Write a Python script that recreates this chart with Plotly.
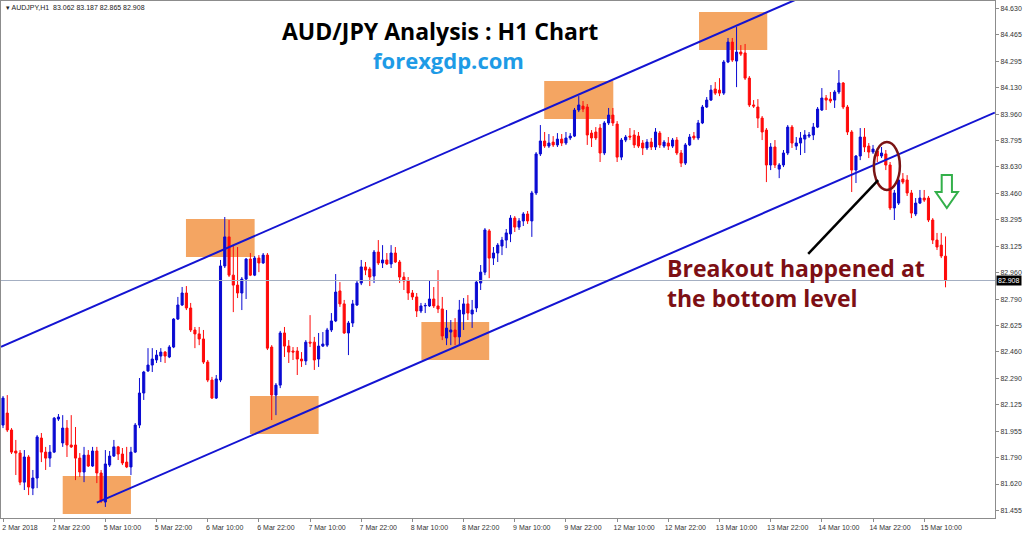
import plotly.graph_objects as go

# ---------------- data (AUD/JPY H1) ----------------
open_ = [81.993,82.069,81.962,81.829,81.816,81.632,81.791,81.594,81.658,81.911,
81.822,81.784,81.822,82.031,81.880,81.974,81.867,81.867,81.784,81.696,
81.803,81.734,81.829,81.690,81.506,81.740,81.797,81.855,81.810,81.759,
81.728,81.822,81.993,82.196,82.336,82.373,82.405,82.430,82.455,82.424,
82.487,82.664,82.753,82.829,82.734,82.595,82.570,82.538,82.392,82.278,
82.164,82.278,83.000,83.184,82.942,82.879,82.829,82.917,83.044,82.942,
83.050,83.019,83.069,82.487,82.183,82.246,82.576,82.493,82.462,82.462,
82.411,82.399,82.518,82.518,82.411,82.493,82.499,82.595,82.652,82.842,
82.760,82.576,82.639,82.753,82.892,82.994,82.981,82.936,83.088,83.019,
83.038,83.013,83.082,83.025,82.930,82.905,82.829,82.804,82.715,82.747,
82.747,82.791,82.747,82.728,82.544,82.582,82.595,82.551,82.696,82.760,
82.696,82.734,82.892,82.961,83.222,83.050,83.082,83.126,83.164,83.203,
83.303,83.246,83.285,83.329,83.285,83.462,83.709,83.791,83.759,83.784,
83.766,83.803,83.778,83.810,83.822,83.987,84.012,84.006,83.841,83.848,
83.873,83.715,83.905,83.955,83.898,83.689,83.797,83.822,83.829,83.822,
83.778,83.747,83.784,83.753,83.841,83.759,83.778,83.759,83.797,83.715,
83.651,83.766,83.822,83.810,83.905,84.006,84.050,84.120,84.113,84.094,
84.291,84.417,84.297,84.354,84.348,84.189,84.019,84.006,83.936,83.860,
83.639,83.753,83.613,83.639,83.715,83.879,83.759,83.778,83.803,83.822,
83.829,83.879,83.987,84.063,84.056,84.050,84.101,84.158,84.006,83.848,
83.607,83.696,83.816,83.759,83.721,83.728,83.696,83.709,83.639,83.367,
83.398,83.550,83.544,83.462,83.329,83.398,83.430,83.430,83.291,83.164,
83.132,83.062]

high = [82.177,82.183,81.974,81.899,81.835,81.835,81.803,81.709,81.930,81.943,
81.855,81.867,82.044,82.063,82.056,82.025,82.056,81.981,81.816,81.855,
81.835,81.855,81.855,81.709,81.835,81.829,81.899,81.861,81.848,81.855,
81.855,82.006,82.291,82.336,82.480,82.480,82.468,82.480,82.462,82.499,
82.670,82.804,82.867,82.873,82.766,82.614,82.614,82.595,82.405,82.298,
82.310,83.038,83.310,83.291,83.132,83.120,82.930,83.050,83.082,83.063,
83.069,83.082,83.082,82.499,82.259,82.589,82.614,82.531,82.487,82.487,
82.455,82.531,82.689,82.551,82.576,82.582,82.608,82.702,82.949,82.898,
82.785,82.652,82.785,82.911,83.038,83.025,82.994,83.101,83.164,83.132,
83.082,83.132,83.120,83.038,82.961,82.930,82.848,82.829,82.766,82.766,
82.911,82.867,82.974,82.804,82.721,82.658,82.670,82.785,82.797,82.816,
82.785,82.911,83.006,83.240,83.234,83.120,83.145,83.184,83.234,83.322,
83.316,83.303,83.341,83.348,83.475,83.721,83.892,83.848,83.835,83.822,
83.841,83.835,83.848,83.841,84.000,84.075,84.044,84.025,83.860,83.879,
83.898,83.917,84.000,84.000,83.917,83.810,83.829,83.873,83.860,83.848,
83.797,83.803,83.810,83.873,83.854,83.797,83.816,83.810,83.816,83.734,
83.778,83.835,83.848,83.924,84.019,84.069,84.145,84.164,84.189,84.303,
84.443,84.443,84.512,84.398,84.405,84.202,84.050,84.056,83.949,83.873,
83.778,83.797,83.651,83.734,83.892,83.892,83.816,83.848,83.860,83.848,
83.905,84.006,84.126,84.082,84.101,84.113,84.240,84.164,84.019,83.860,
83.702,83.873,83.873,83.778,83.766,83.747,83.753,83.734,83.658,83.481,
83.556,83.588,83.575,83.481,83.430,83.481,83.481,83.443,83.303,83.209,
83.209,83.187]

low = [81.974,81.949,81.810,81.677,81.613,81.582,81.550,81.550,81.594,81.759,
81.709,81.728,81.816,82.019,81.855,81.791,81.848,81.645,81.665,81.632,
81.728,81.728,81.626,81.500,81.475,81.728,81.791,81.772,81.740,81.721,
81.677,81.816,81.974,82.152,82.329,82.329,82.386,82.392,82.386,82.417,
82.480,82.658,82.747,82.721,82.582,82.480,82.499,82.380,82.265,82.158,
82.158,82.265,82.987,82.930,82.708,82.797,82.721,82.791,82.936,82.936,
82.961,83.013,82.468,82.025,82.056,82.227,82.424,82.386,82.405,82.310,
82.361,82.373,82.487,82.342,82.361,82.487,82.487,82.582,82.645,82.741,
82.570,82.436,82.614,82.747,82.879,82.942,82.873,82.892,83.006,82.987,
83.006,82.987,83.019,82.892,82.848,82.785,82.785,82.677,82.702,82.702,
82.741,82.734,82.702,82.531,82.499,82.499,82.499,82.499,82.595,82.658,
82.608,82.708,82.848,82.942,82.923,83.006,83.025,83.069,83.113,83.151,
83.215,83.228,83.253,83.266,83.184,83.449,83.696,83.747,83.747,83.753,
83.753,83.759,83.766,83.797,83.816,83.974,83.974,83.766,83.753,83.797,
83.658,83.702,83.892,83.886,83.658,83.670,83.784,83.797,83.747,83.747,
83.702,83.734,83.734,83.734,83.747,83.747,83.734,83.747,83.702,83.626,
83.639,83.759,83.797,83.797,83.898,84.000,84.044,84.082,84.075,84.082,
84.284,84.291,84.132,84.329,84.177,84.006,84.000,83.873,83.797,83.531,
83.607,83.620,83.556,83.626,83.702,83.747,83.734,83.702,83.715,83.810,
83.797,83.873,83.981,83.987,84.031,84.000,84.088,83.993,83.829,83.468,
83.525,83.670,83.721,83.683,83.709,83.658,83.683,83.607,83.354,83.291,
83.386,83.518,83.443,83.303,83.316,83.392,83.405,83.278,83.139,83.101,
83.050,82.865]

close = [82.164,81.962,81.822,81.816,81.632,81.791,81.601,81.658,81.918,81.822,
81.784,81.822,82.037,82.044,81.974,81.867,81.855,81.784,81.696,81.803,
81.734,81.829,81.690,81.513,81.747,81.797,81.855,81.810,81.753,81.728,
81.822,81.993,82.196,82.329,82.373,82.411,82.436,82.455,82.430,82.487,
82.664,82.753,82.829,82.734,82.595,82.570,82.538,82.392,82.278,82.164,
82.285,83.000,83.184,82.942,82.879,82.829,82.917,83.044,82.942,83.050,
83.019,83.069,82.480,82.183,82.246,82.576,82.493,82.455,82.455,82.411,
82.399,82.518,82.512,82.405,82.493,82.506,82.595,82.652,82.835,82.760,
82.576,82.639,82.760,82.892,82.994,82.974,82.930,83.088,83.019,83.038,
83.013,83.082,83.025,82.930,82.905,82.829,82.804,82.715,82.747,82.750,
82.791,82.747,82.728,82.557,82.607,82.595,82.551,82.721,82.760,82.702,
82.721,82.898,82.961,83.228,83.050,83.082,83.132,83.164,83.209,83.303,
83.246,83.285,83.329,83.285,83.462,83.709,83.791,83.759,83.778,83.766,
83.803,83.778,83.810,83.822,83.987,84.019,83.993,83.829,83.810,83.810,
83.715,83.905,83.955,83.905,83.689,83.797,83.816,83.816,83.766,83.759,
83.747,83.784,83.753,83.848,83.766,83.784,83.759,83.797,83.715,83.651,
83.766,83.816,83.810,83.905,84.006,84.050,84.113,84.094,84.094,84.291,
84.417,84.303,84.354,84.341,84.189,84.019,84.012,83.936,83.848,83.639,
83.753,83.639,83.639,83.715,83.879,83.778,83.778,83.810,83.829,83.829,
83.879,83.993,84.063,84.050,84.044,84.101,84.158,84.006,83.848,83.607,
83.696,83.816,83.753,83.721,83.740,83.696,83.715,83.639,83.367,83.462,
83.544,83.531,83.462,83.335,83.398,83.430,83.417,83.291,83.164,83.120,
83.063,82.908]

assert len(open_) == len(high) == len(low) == len(close) == 222, (len(open_), len(high), len(low), len(close))
bars = list(range(len(close)))

x_tick_bars = [0, 12, 24, 36, 48, 60, 72, 84, 96, 108, 120, 132, 144, 156, 168, 180, 192, 204, 216]
x_tick_labels = ["2 Mar 2018", "2 Mar 22:00", "5 Mar 10:00", "5 Mar 22:00", "6 Mar 10:00",
                 "6 Mar 22:00", "7 Mar 10:00", "7 Mar 22:00", "8 Mar 10:00", "8 Mar 22:00",
                 "9 Mar 10:00", "9 Mar 22:00", "12 Mar 10:00", "12 Mar 22:00", "13 Mar 10:00",
                 "13 Mar 22:00", "14 Mar 10:00", "14 Mar 22:00", "15 Mar 10:00"]
y_tick_values = [84.630, 84.465, 84.295, 84.130, 83.960, 83.795, 83.630, 83.460, 83.295, 83.125,
                 82.960, 82.790, 82.625, 82.460, 82.290, 82.125, 81.955, 81.790, 81.620, 81.455]
last_price = 82.908

# annotation geometry (bar index, price)
boxes = [(14.0, 30.0, 81.430, 81.671), (42.9, 59.0, 83.057, 83.297), (57.9, 74.0, 81.937, 82.177),
         (98.1, 114.0, 82.405, 82.645), (126.9, 143.1, 83.930, 84.170), (163.2, 179.2, 84.367, 84.607)]
upper_channel = ((-0.47, 82.489), (185.7, 84.683))
lower_channel = ((22.0, 81.502), (232.55, 83.971))

BLUE = "#0a0ad2"
RED = "#ff0a0a"
LINE_BLUE = "#1414d2"

fig = go.Figure()
fig.add_trace(go.Candlestick(
    x=bars, open=open_, high=high, low=low, close=close,
    increasing=dict(line=dict(color=BLUE, width=1), fillcolor=BLUE),
    decreasing=dict(line=dict(color=RED, width=1), fillcolor=RED),
    whiskerwidth=0, hoverinfo="skip", showlegend=False))

shapes = []
for x0, x1, y0, y1 in boxes:
    shapes.append(dict(type="rect", xref="x", yref="y", x0=x0, x1=x1, y0=y0, y1=y1,
                       fillcolor="#f4a562", line=dict(width=0), layer="below"))
shapes.append(dict(type="line", xref="paper", yref="y", x0=0, x1=1, y0=last_price, y1=last_price,
                   line=dict(color="#a4afc2", width=1)))
for (xa, ya), (xb, yb) in (upper_channel, lower_channel):
    shapes.append(dict(type="line", xref="x", yref="y", x0=xa, y0=ya, x1=xb, y1=yb,
                       line=dict(color=LINE_BLUE, width=2)))
# breakout circle
shapes.append(dict(type="circle", xref="x", yref="y", x0=204.2, x1=210.3, y0=83.481, y1=83.784,
                   line=dict(color="#7a1414", width=2.5)))
# pointer line
shapes.append(dict(type="line", xref="x", yref="y", x0=188.8, y0=83.076, x1=205.2, y1=83.544,
                   line=dict(color="black", width=2.5)))
# green down arrow (outline)
shapes.append(dict(type="path", xref="x", yref="y",
                   path="M 220.1,83.576 L 222.5,83.576 L 222.5,83.468 L 223.9,83.468 L 221.3,83.367 "
                        "L 218.7,83.468 L 220.1,83.468 Z",
                   line=dict(color="#33b04a", width=2), fillcolor="rgba(0,0,0,0)"))

W, H = 1024, 533
ML, MR, MT, MB = 1, 29, 1, 15
PW, PH = W - ML - MR, H - MT - MB


def px(xpix):
    return (xpix - ML) / PW


def py(ypix):
    return 1 - (ypix - MT) / PH


annotations = [
    dict(text="▾ AUDJPY,H1  83.062 83.187 82.865 82.908", xref="paper", yref="paper",
         x=px(4), y=py(8), xanchor="left", yanchor="middle", showarrow=False,
         font=dict(family="Liberation Sans", size=7, color="#222")),
    dict(text="<b>AUD/JPY Analysis : H1 Chart</b>", xref="paper", yref="paper",
         x=px(440), y=py(31), xanchor="center", yanchor="middle", showarrow=False,
         font=dict(family="Open Sans", size=23, color="#000")),
    dict(text="<b>forexgdp.com</b>", xref="paper", yref="paper",
         x=px(448), y=py(60), xanchor="center", yanchor="middle", showarrow=False,
         font=dict(family="Open Sans", size=22, color="#1e9be6")),
    dict(text="<b>Breakout happened at</b><br><b>the bottom level</b>", xref="paper", yref="paper",
         x=px(665), y=py(283), xanchor="left", yanchor="middle", align="left", showarrow=False,
         font=dict(family="Open Sans", size=23, color="#7d0f14")),
    dict(text="%.3f" % last_price, xref="paper", yref="y", x=1, y=last_price,
         xanchor="left", yanchor="middle", xshift=1, showarrow=False, bgcolor="#000",
         borderpad=1, font=dict(family="Liberation Sans", size=7, color="#fff")),
]

fig.update_layout(
    width=W, height=H, autosize=False,
    margin=dict(l=ML, r=MR, t=MT, b=MB, pad=0),
    paper_bgcolor="white", plot_bgcolor="white",
    shapes=shapes, annotations=annotations, showlegend=False, hovermode=False,
    xaxis=dict(range=[-0.47, 232.6], rangeslider=dict(visible=False), showgrid=False,
               zeroline=False, showline=True, linecolor="#8c8c8c", linewidth=1, mirror=True,
               ticks="outside", ticklen=3, tickcolor="#8c8c8c",
               tickmode="array", tickvals=x_tick_bars, ticktext=x_tick_labels,
               ticklabelshift=17, ticklabelstandoff=0,
               tickfont=dict(family="Liberation Sans", size=7, color="#333")),
    yaxis=dict(range=[81.405, 84.677], side="right", showgrid=False, zeroline=False,
               showline=True, linecolor="#8c8c8c", linewidth=1, mirror=True,
               ticks="outside", ticklen=3, tickcolor="#8c8c8c",
               tickmode="array", tickvals=y_tick_values,
               ticktext=["%.3f" % v for v in y_tick_values],
               tickfont=dict(family="Liberation Sans", size=7, color="#333")),
)

fig.write_html("out.html", config={"displayModeBar": False},
               post_script="document.body.style.margin='0';document.body.style.overflow='hidden';")
